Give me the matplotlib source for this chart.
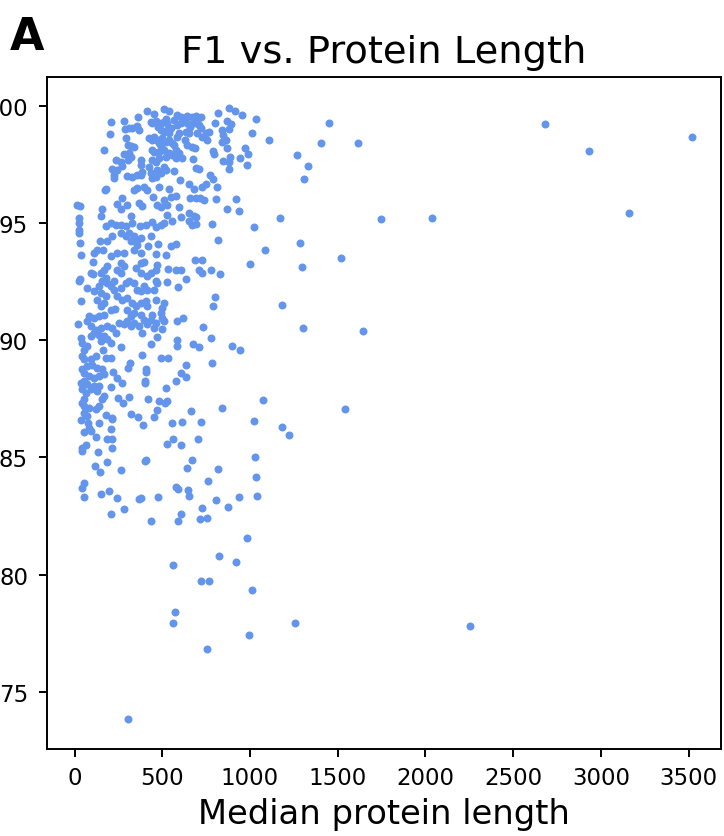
import numpy as np
import matplotlib.pyplot as plt

# (median protein length, F1) pairs, grouped by F1 band
high_f1 = [
    (881, 99.94), (916, 99.81), (956, 99.64), (1037, 99.45), (817, 99.70), (798, 99.30),
    (870, 99.37), (893, 99.24), (881, 99.01), (842, 98.99), (1013, 98.84), (1111, 98.57),
    (847, 98.77), (861, 98.56), (842, 98.49), (792, 98.11), (794, 97.96), (870, 98.21),
    (889, 97.85), (847, 97.67), (881, 97.64), (946, 97.78), (969, 98.21), (988, 97.95),
    (984, 97.50), (883, 97.33), (676, 97.74), (690, 97.35), (709, 97.31), (566, 97.24),
    (600, 96.83), (652, 96.69), (680, 96.46), (724, 96.57), (750, 96.69), (771, 97.06),
    (788, 96.89), (813, 96.57), (657, 96.09), (690, 96.10), (714, 96.08), (737, 95.99),
    (807, 96.03), (868, 95.61), (921, 96.03), (937, 95.51), (1174, 95.21), (1024, 94.84),
    (1085, 93.86), (785, 94.98), (815, 94.29), (653, 95.44), (680, 95.30), (695, 95.25),
    (652, 95.08), (671, 94.94), (693, 94.98), (604, 95.27), (557, 95.11), (528, 95.37),
    (595, 95.69), (576, 96.15), (547, 96.12), (538, 96.46), (481, 96.57), (448, 96.12),
    (471, 95.79), (494, 95.69), (509, 96.01), (528, 95.78), (576, 94.13), (547, 94.05),
    (519, 93.66), (475, 94.12), (462, 93.71), (420, 94.02), (372, 94.87), (410, 94.94),
    (439, 95.04), (462, 94.84), (490, 94.94), (509, 95.01), (433, 94.44), (376, 94.37),
    (357, 94.09), (338, 93.88), (376, 93.73), (386, 95.72), (367, 95.86), (338, 96.43),
    (357, 96.50), (395, 96.57), (414, 96.43), (300, 95.79), (272, 96.08), (243, 95.83),
    (262, 95.61), (319, 95.30), (329, 95.01), (291, 94.87), (262, 94.94), (234, 94.94),
    (205, 95.01), (177, 94.87), (262, 94.59), (291, 94.44), (310, 94.59), (338, 94.44),
    (319, 94.23), (357, 94.30), (211, 94.44), (186, 94.23), (144, 94.23), (163, 93.85),
    (110, 93.73), (129, 93.88), (205, 93.59), (243, 93.73), (281, 93.73), (30, 94.16),
    (34, 93.63), (25, 95.22), (25, 95.01), (28, 94.73), (25, 94.59), (15, 95.78),
    (30, 95.75), (158, 95.62), (152, 95.30), (173, 96.43), (182, 96.46), (224, 96.93),
    (243, 97.28), (215, 97.31), (272, 97.45), (239, 97.71), (262, 97.60), (281, 97.96),
    (310, 97.99), (319, 97.82), (304, 97.71), (224, 97.07), (300, 97.03), (329, 97.00),
    (357, 97.07), (376, 97.07), (386, 97.21), (376, 97.71), (376, 97.50), (424, 97.42),
    (433, 97.14), (443, 96.93), (462, 97.00), (471, 97.28), (490, 97.14), (509, 97.42),
    (519, 97.28), (443, 97.71), (462, 97.64), (481, 97.78), (452, 98.06), (481, 98.06),
    (443, 98.13), (167, 98.13), (207, 99.33), (203, 98.83), (281, 99.37), (287, 99.01),
    (296, 98.63), (304, 98.35), (319, 98.30), (338, 98.28), (310, 99.09), (329, 99.06),
    (357, 99.16), (368, 98.99), (363, 99.53), (412, 99.81), (452, 99.67), (509, 99.87),
    (538, 99.81), (433, 99.34), (443, 99.27), (462, 99.38), (475, 99.13), (490, 99.27),
    (509, 99.34), (519, 99.44), (528, 99.27), (547, 99.06), (566, 99.41), (424, 98.63),
    (443, 98.56), (452, 98.70), (471, 98.56), (481, 98.42), (500, 98.63), (519, 98.49),
    (538, 98.56), (557, 98.42), (538, 98.84), (490, 98.99), (509, 98.92), (528, 98.99),
    (585, 99.63), (604, 99.55), (623, 99.48), (642, 99.58), (671, 99.55), (690, 99.58),
    (718, 99.53), (699, 99.34), (680, 99.27), (642, 99.27), (604, 99.27), (585, 99.20),
    (657, 99.13), (633, 98.92), (652, 98.84), (595, 98.87), (585, 98.70), (627, 98.56),
    (699, 98.84), (728, 98.70), (756, 98.56), (747, 98.84), (766, 98.92), (718, 99.06),
    (709, 99.20), (642, 98.35), (671, 98.28), (684, 98.21), (566, 98.35), (576, 98.13),
    (595, 97.99), (576, 97.78), (614, 97.78), (557, 97.92), (490, 98.28), (509, 98.13),
    (519, 97.85), (538, 97.99),
]

mid_f1 = [
    (106, 93.33), (686, 93.44), (728, 93.42), (999, 93.25), (534, 93.05), (576, 92.99),
    (608, 92.99), (709, 93.02), (728, 92.90), (775, 93.02), (828, 92.85), (633, 92.62),
    (528, 92.48), (591, 92.28), (467, 92.52), (471, 93.23), (462, 93.02), (433, 92.88),
    (414, 92.73), (376, 92.88), (348, 93.09), (376, 93.30), (395, 93.37), (262, 93.30),
    (281, 93.16), (243, 93.02), (262, 92.88), (186, 93.16), (167, 93.02), (148, 92.88),
    (177, 92.66), (158, 92.52), (139, 92.31), (186, 92.45), (205, 92.31), (224, 92.52),
    (91, 92.88), (104, 92.85), (30, 92.62), (25, 92.52), (72, 92.24), (110, 92.10),
    (148, 92.02), (177, 91.88), (167, 91.60), (148, 91.46), (129, 91.74), (224, 92.17),
    (262, 92.24), (291, 92.45), (310, 92.52), (338, 92.45), (357, 92.17), (376, 92.10),
    (395, 92.31), (414, 92.17), (452, 92.17), (462, 91.74), (471, 92.45), (243, 91.88),
    (272, 91.74), (300, 91.81), (329, 91.60), (348, 91.46), (376, 91.60), (405, 91.67),
    (414, 91.46), (300, 91.31), (319, 91.03), (338, 91.17), (376, 91.10), (395, 90.89),
    (433, 90.89), (462, 90.75), (443, 91.10), (509, 91.60), (500, 91.39), (490, 91.17),
    (500, 90.96), (509, 90.82), (500, 90.49), (34, 91.67), (798, 91.84), (788, 91.46),
    (228, 91.34), (205, 91.31), (167, 91.10), (139, 91.03), (110, 90.96), (82, 91.03),
    (72, 90.82), (19, 90.72), (91, 90.60), (120, 90.46), (148, 90.53), (186, 90.60),
    (215, 90.53), (234, 90.32), (253, 90.75), (281, 90.68), (300, 90.82), (319, 90.60),
    (338, 90.75), (367, 90.60), (386, 90.32), (414, 90.68), (452, 90.53), (585, 90.82),
    (619, 90.96), (733, 90.58), (777, 90.11), (585, 90.01), (585, 89.78), (674, 89.85),
    (709, 89.72), (899, 89.75), (942, 89.58), (471, 90.14), (433, 89.85), (262, 89.74),
    (34, 90.11), (44, 89.90), (53, 89.61), (72, 89.75), (91, 90.18), (110, 90.32),
    (139, 90.25), (167, 90.18), (186, 90.04), (205, 89.90), (148, 89.97), (44, 89.33),
    (53, 89.19), (91, 89.19), (120, 89.33), (163, 89.61), (177, 89.26), (205, 89.26),
    (386, 89.36), (494, 89.26), (534, 89.24), (315, 89.04), (304, 88.83), (405, 88.76),
    (406, 88.67), (633, 88.93), (608, 88.62), (633, 88.43), (581, 88.25), (781, 89.04),
    (399, 88.28), (401, 88.19), (519, 87.95), (44, 88.76), (53, 88.62), (72, 88.90),
    (101, 88.97), (129, 88.83), (158, 88.76), (167, 88.55), (139, 88.48), (110, 88.40),
    (82, 88.48), (220, 88.65), (243, 88.40), (272, 88.19), (209, 88.01), (34, 88.19),
    (53, 88.26), (72, 88.12), (44, 87.91), (63, 87.77), (91, 87.91), (110, 88.05),
    (139, 88.05), (129, 87.84), (167, 87.62), (158, 87.48), (247, 87.55), (277, 87.31),
    (310, 87.58), (420, 87.48), (481, 87.41), (513, 87.34), (528, 87.41), (53, 87.48),
    (44, 87.31), (53, 87.20), (82, 87.13), (120, 87.06), (139, 87.20), (53, 86.91),
    (72, 86.77), (177, 86.81), (215, 86.70), (323, 86.87), (363, 86.74), (452, 86.73),
    (471, 87.03), (661, 86.98), (838, 87.13), (1075, 87.47),
]

low_f1 = [
    (38, 86.60), (78, 86.49), (139, 86.46), (215, 86.63), (205, 86.23), (186, 85.78),
    (215, 85.78), (216, 85.42), (120, 85.89), (68, 85.55), (40, 85.42), (40, 85.28),
    (53, 86.09), (91, 86.13), (82, 86.28), (133, 85.25), (393, 86.38), (555, 86.49),
    (612, 86.52), (718, 86.52), (701, 85.81), (560, 85.78), (528, 85.58), (606, 85.52),
    (1022, 86.57), (114, 84.64), (146, 84.36), (186, 84.81), (266, 84.46), (401, 84.86),
    (410, 84.90), (671, 84.88), (640, 84.57), (817, 84.50), (1028, 85.00), (1033, 84.18),
    (760, 83.99), (53, 83.93), (44, 83.71), (55, 83.31), (152, 83.44), (194, 83.58),
    (241, 83.25), (281, 82.80), (207, 82.59), (368, 83.22), (380, 83.28), (475, 83.31),
    (576, 83.72), (589, 83.64), (648, 83.61), (655, 83.34), (724, 82.83), (805, 83.18),
    (876, 82.88), (940, 83.31), (1039, 83.37), (437, 82.29), (604, 82.58), (591, 82.29),
    (714, 82.36), (754, 82.41), (984, 81.58), (824, 80.81), (560, 80.41), (919, 80.53),
    (718, 79.72), (766, 79.72), (1014, 79.32), (570, 78.38), (564, 77.94), (995, 77.43),
    (756, 76.84), (306, 73.84),
]

# long proteins, sparse
long_proteins = [
    (2683, 99.24), (2934, 98.09), (3521, 98.70), (3162, 95.43), (1448, 99.27),
    (1404, 98.42), (1617, 98.44), (1266, 97.92), (1328, 97.45), (1310, 96.88),
    (1746, 95.20), (2035, 95.23), (1288, 94.18), (1520, 93.54), (1296, 93.12),
    (1180, 91.53), (1302, 90.54), (1646, 90.42), (1539, 87.09), (1180, 86.30),
    (1220, 85.94), (1256, 77.94), (2254, 77.82),
]

pts = np.array(high_f1 + mid_f1 + low_f1 + long_proteins)
lengths, f1 = pts[:, 0], pts[:, 1]

DPI = 100
fig = plt.figure(figsize=(7.24, 8.37), dpi=DPI)
ax = fig.add_axes([47 / 724, 87 / 837, 674 / 724, 672 / 837])

ax.scatter(lengths, f1, s=33, color='cornflowerblue', linewidths=0)

ax.set_xlim(-157, 3685)
ax.set_ylim(72.55, 101.25)
ax.set_xticks(np.arange(0, 3501, 500))
ax.set_yticks([75, 80, 85, 90, 95, 100])

ax.tick_params(labelsize=16.5, length=6.1, width=1.4)
ax.tick_params(axis='y', pad=7.5)
ax.tick_params(axis='x', pad=6)
for sp in ax.spines.values():
    sp.set_linewidth(1.4)

ax.set_title('F1 vs. Protein Length', fontsize=27.6, pad=10.5)
ax.set_xlabel('Median protein length', fontsize=24.3, labelpad=6)

fig.text(10 / 724, 1 - 50 / 837, 'A', fontsize=32, fontweight='bold', va='baseline')

fig.savefig('out.png', dpi=DPI)
